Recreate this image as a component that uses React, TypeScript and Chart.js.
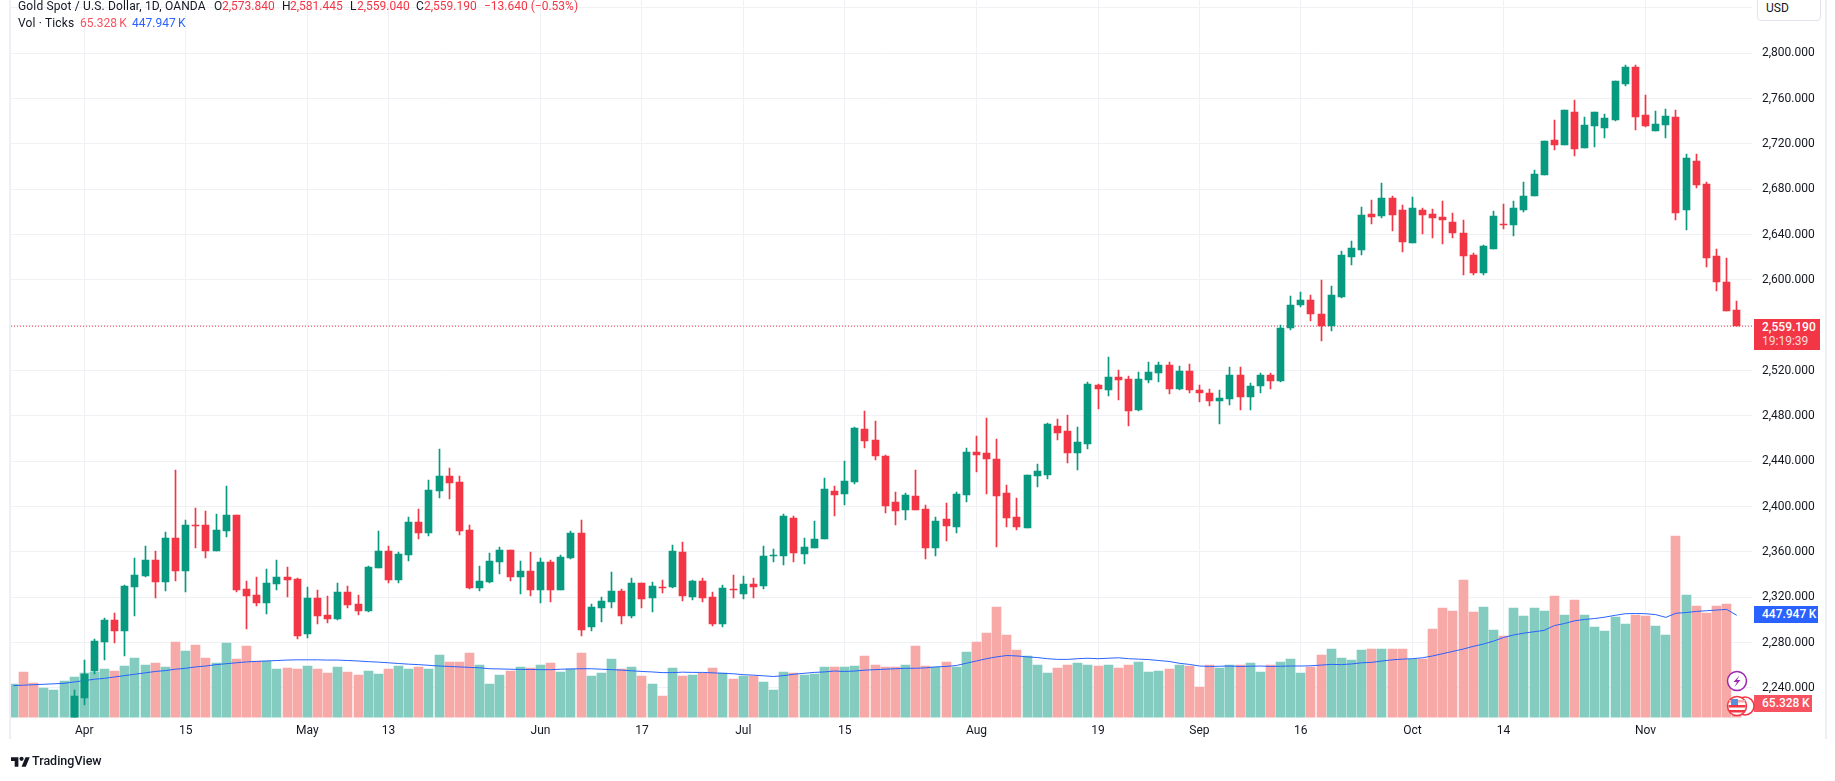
import { useRef, useEffect } from 'react'
import type { CSSProperties } from 'react'
import { Chart, registerables } from 'chart.js'

Chart.register(...registerables)

const FONT = 'Roboto, sans-serif'
const UP = '#089981'
const DOWN = '#F23645'
const UP_VOL = '#84CCBF'
const DOWN_VOL = '#F7A9A7'

// bar number 0 is 1 April, first row starts at -7 (those are below the visible range)
const FIRST_BAR = -7

const opens = [
  2160, 2182, 2172, 2166, 2180, 2190, 2194, 2231, 2255, 2280.3,
  2299.7, 2290, 2329, 2338.8, 2353, 2333.5, 2372.3, 2343.2, 2383.8, 2383.8,
  2360.9, 2378.5, 2392.6, 2327.4, 2322, 2315, 2331.8, 2337.9, 2336.2, 2288,
  2319.4, 2304.4, 2300.9, 2324.7, 2314, 2308, 2345.9, 2360.9, 2335.3, 2357.4,
  2386.5, 2376.8, 2413.8, 2427, 2421.8, 2379.4, 2328.2, 2333.5, 2351.2, 2361.8,
  2338, 2343.2, 2326.5, 2351.2, 2326.5, 2354.7, 2376.8, 2294, 2310.6, 2315.9,
  2325.6, 2303.5, 2332.6, 2319.4, 2329.1, 2329.1, 2360, 2320.3, 2334.4, 2320.3,
  2296, 2327.4, 2322.9, 2331.8, 2330, 2356.5, 2356.5, 2390, 2358.5, 2363.8,
  2371.8, 2414.1, 2411.5, 2422, 2468.8, 2459.1, 2445, 2404.4, 2397.4, 2409.7,
  2398.2, 2363.8, 2389.4, 2382.4, 2410.6, 2448.5, 2447.6, 2442.4, 2412.3, 2391.2,
  2381.5, 2427.4, 2428.2, 2471.5, 2467, 2447.6, 2455.6, 2507.6, 2503.2, 2514.7,
  2512.9, 2485.6, 2512, 2518, 2525, 2504, 2520, 2503, 2500, 2493,
  2495, 2516, 2497, 2506, 2516, 2511, 2558, 2578.2, 2582, 2570,
  2559, 2585.3, 2620.6, 2626.8, 2658.5, 2656.8, 2672.6, 2662, 2632.9, 2662,
  2658.5, 2655.9, 2651.5, 2641.8, 2622.4, 2606.5, 2627.6, 2649.2, 2648.4, 2661.6,
  2674.1, 2692.5, 2723.3, 2719.1, 2748.3, 2716.2, 2735.8, 2734.1, 2741.2, 2773,
  2787.9, 2745.4, 2731.2, 2736.6, 2743.8, 2661.6, 2704.9, 2684.5, 2621.3, 2597.9,
  2573.84,
]

const highs = [
  2203, 2186, 2178, 2184, 2194, 2199, 2238, 2265, 2283, 2301.5,
  2306, 2331, 2354.7, 2365.3, 2360.9, 2377.6, 2432.3, 2388.2, 2398.8, 2396.2,
  2393.5, 2418.2, 2392.6, 2334.4, 2337.9, 2345, 2352.9, 2346.8, 2337, 2329,
  2326.5, 2321.2, 2332.6, 2330, 2322, 2347.6, 2378.5, 2365.3, 2360, 2390.9,
  2397.9, 2423.5, 2450.9, 2434.1, 2427, 2383.8, 2347.6, 2359, 2364.4, 2361.8,
  2352, 2360, 2354.7, 2353, 2357.4, 2378.5, 2388.2, 2314.1, 2320.3, 2342.4,
  2327.4, 2337, 2332.6, 2333.5, 2335.3, 2366.2, 2368.8, 2335.3, 2337, 2324.7,
  2330.9, 2339.7, 2338.8, 2337, 2365.3, 2362.6, 2393.5, 2391.8, 2372.6, 2387.6,
  2425.6, 2418.5, 2440.6, 2470.6, 2484.7, 2475.9, 2445.9, 2413.2, 2412.3, 2432.6,
  2401.8, 2391.2, 2403.5, 2413.2, 2452, 2462.6, 2478.5, 2460, 2419.4, 2407.9,
  2428.2, 2437.9, 2473.8, 2477.6, 2481.2, 2470.6, 2510.3, 2508.5, 2532.3, 2520.9,
  2515.6, 2519, 2527.9, 2528, 2528, 2524, 2526, 2507, 2504, 2503,
  2523, 2523, 2509, 2518, 2518, 2560, 2586, 2589.7, 2587, 2600.3,
  2595, 2625.9, 2634.7, 2664.7, 2670.9, 2685.9, 2674.4, 2666.5, 2673.5, 2663.8,
  2662.9, 2670, 2659.4, 2653.2, 2624.1, 2631.2, 2661.2, 2667, 2669.6, 2686.2,
  2697, 2722.9, 2741.2, 2750, 2758.7, 2743.7, 2748.3, 2746.2, 2775.4, 2790,
  2790, 2763.3, 2748.7, 2750.7, 2749.9, 2711.2, 2711.2, 2686.2, 2627.1, 2619,
  2581.445,
]

const lows = [
  2157, 2155, 2162, 2164, 2178, 2187, 2193, 2225, 2252, 2265,
  2279.4, 2268, 2303.5, 2338, 2319.4, 2325.6, 2334.4, 2324.7, 2363.5, 2354.7,
  2360.9, 2373.2, 2324.7, 2291.8, 2312.4, 2305.3, 2326.5, 2320, 2283, 2284,
  2296, 2297, 2300, 2310.6, 2304.4, 2307, 2345.9, 2332.6, 2333, 2352,
  2371.5, 2374.1, 2407.6, 2406.8, 2375, 2327.4, 2325.6, 2332.6, 2340.6, 2334.4,
  2323, 2321.2, 2315, 2315.9, 2326.5, 2353.8, 2286, 2290, 2298, 2310.6,
  2296, 2301.8, 2310.6, 2307, 2323.8, 2328.2, 2316.8, 2317.6, 2315.9, 2295,
  2294, 2319.4, 2318.5, 2319.4, 2327.4, 2351.2, 2348.5, 2351.2, 2349.7, 2363.8,
  2371.8, 2392, 2401.8, 2420.3, 2452, 2441.5, 2394.7, 2384.1, 2388.5, 2397.4,
  2354.1, 2356.8, 2370, 2377, 2404.4, 2430.9, 2411.5, 2364.7, 2382.4, 2379.7,
  2381.5, 2417.6, 2424.7, 2459.1, 2438.8, 2432.6, 2451.2, 2486.5, 2497.9, 2494.4,
  2471.5, 2484.7, 2509.4, 2510, 2499, 2503, 2500, 2492, 2489, 2473,
  2490, 2485, 2485, 2500, 2504, 2510, 2556, 2576, 2564, 2546,
  2555, 2584.4, 2613.5, 2622.4, 2649.7, 2655, 2643.5, 2625, 2632.9, 2640.9,
  2637.4, 2632, 2637.4, 2604.7, 2604.7, 2604.7, 2627.6, 2644.6, 2639, 2659.5,
  2674.1, 2692.5, 2714.5, 2719, 2709.1, 2716, 2717.3, 2725.3, 2740.4, 2771.2,
  2732.5, 2734.5, 2731, 2725.3, 2652.8, 2644, 2681.2, 2611, 2590, 2572.5,
  2559.04,
]

const closes = [
  2182, 2165, 2166, 2180, 2190, 2193, 2233, 2252, 2281, 2299.7,
  2290, 2330, 2339.7, 2353, 2333.5, 2372.3, 2343.2, 2383.8, 2383, 2360.9,
  2379.4, 2392.6, 2326.5, 2321.2, 2315, 2332.6, 2337.9, 2335.3, 2285.6, 2319.4,
  2303.5, 2300.9, 2324.7, 2313.2, 2308, 2346.8, 2360.9, 2335.3, 2358.2, 2386.5,
  2376.8, 2414.7, 2427, 2420.9, 2378.5, 2328.2, 2334.4, 2352, 2361.8, 2338,
  2343.2, 2326.5, 2351.2, 2326.5, 2355.6, 2376.8, 2291, 2311.5, 2316.8, 2325.6,
  2303.5, 2332.6, 2318.5, 2330, 2328.2, 2360.9, 2321.2, 2334.4, 2319.4, 2296,
  2328.2, 2326.5, 2331.8, 2329.1, 2356.5, 2357.4, 2391.8, 2359, 2364.7, 2371.8,
  2415.9, 2410.6, 2422.9, 2469.7, 2458.2, 2445, 2400.9, 2396.5, 2410.6, 2397.4,
  2363.8, 2387.6, 2383.2, 2411.5, 2448.5, 2445.9, 2442.4, 2409.7, 2390.3, 2382.4,
  2428.2, 2431.8, 2473.2, 2465.3, 2447.6, 2457.4, 2508.5, 2504.1, 2514.7, 2512,
  2484.7, 2512.9, 2519, 2525, 2504, 2520, 2503, 2500, 2493, 2496,
  2516, 2497, 2506, 2516, 2511, 2558, 2578.2, 2582.6, 2570, 2559,
  2587, 2622.4, 2628.5, 2657.6, 2655.9, 2672.6, 2657.6, 2633.8, 2663.8, 2657.6,
  2655, 2653.2, 2641.8, 2621.5, 2606.5, 2630.3, 2656.8, 2648.4, 2663.4, 2674.1,
  2693.3, 2722.5, 2719.1, 2750, 2715.4, 2736.6, 2748.3, 2743, 2775.4, 2787.9,
  2743.8, 2735.8, 2737.4, 2744.6, 2659, 2707.4, 2683.7, 2619, 2597.9, 2572.5,
  2559.19,
]

// thousands of ticks
const volumes = [
  145, 200, 150, 128, 123, 160, 180, 195, 200, 213,
  205, 226, 261, 230, 239, 222, 331, 292, 318, 261,
  239, 327, 257, 314, 248, 248, 213, 217, 211, 227,
  211, 196, 222, 201, 186, 206, 191, 211, 225, 215,
  220, 215, 273, 242, 242, 283, 232, 145, 186, 206,
  222, 217, 232, 237, 201, 211, 283, 181, 196, 258,
  211, 222, 181, 145, 94, 217, 181, 186, 196, 217,
  196, 170, 181, 181, 155, 119, 201, 196, 186, 191,
  222, 222, 222, 227, 268, 232, 222, 222, 232, 314,
  227, 222, 242, 222, 288, 330, 371, 483, 360, 294,
  268, 232, 196, 217, 232, 237, 232, 227, 232, 217,
  232, 242, 201, 206, 211, 232, 227, 135, 232, 217,
  232, 232, 237, 201, 232, 242, 258, 196, 222, 273,
  299, 263, 253, 294, 299, 299, 299, 299, 258, 258,
  390, 480, 467, 603, 462, 484, 384, 357, 480, 444,
  480, 465, 532, 449, 514, 449, 395, 378, 440, 409,
  449, 444, 400, 360, 796, 536, 488, 458, 488, 497,
  65.328,
]

const volumeMa = [
  140, 142, 144, 146, 148, 150, 156, 162, 168, 172,
  178, 184, 190, 196, 202, 206, 212, 216, 222, 226,
  232, 236, 240, 244, 246, 248, 250, 252, 253, 253,
  253, 252, 252, 250, 248, 245, 243, 240, 237, 234,
  232, 229, 226, 224, 222, 220, 218, 214, 213, 212,
  211, 211, 210, 210, 212, 213, 214, 214, 212, 210,
  208, 205, 202, 200, 197, 197, 199, 198, 198, 196,
  194, 192, 188, 186, 183, 180, 184, 190, 194, 198,
  200, 204, 202, 204, 208, 210, 212, 214, 216, 216,
  218, 222, 224, 228, 238, 248, 258, 266, 272, 270,
  266, 263, 258, 255, 255, 258, 260, 258, 260, 262,
  258, 256, 254, 250, 246, 238, 233, 226, 224, 225,
  226, 224, 225, 226, 224, 225, 226, 226, 227, 230,
  233, 232, 235, 240, 242, 248, 253, 256, 258, 262,
  270, 280, 290, 300, 312, 322, 335, 351, 362, 370,
  376, 382, 403, 412, 424, 430, 434, 440, 448, 455,
  456, 455, 451, 439, 457, 460, 465, 468, 471, 474,
  447.947,
]

const lastPrice = 2559.19
const priceTicks = [2240, 2280, 2320, 2360, 2400, 2440, 2480, 2520, 2560, 2600, 2640, 2680, 2720, 2760, 2800, 2840]
const hiddenPriceTicks = [2560, 2840]
const timeTickBars = [0, 10, 22, 30, 45, 55, 65, 75, 88, 100, 110, 120, 131, 140, 154]
const timeTickLabels = ['Apr', '15', 'May', '13', 'Jun', '17', 'Jul', '15', 'Aug', '19', 'Sep', '16', 'Oct', '14', 'Nov']

const barNo = (i: number) => i + FIRST_BAR
const isUp = (i: number) => closes[i] >= opens[i]

// the original draws every bar on whole pixels, so snap them the same way
const snapBars = {
  id: 'snapBars',
  afterDatasetsUpdate(chart: Chart) {
    chart.getSortedVisibleDatasetMetas().forEach((meta) => {
      if (meta.type !== 'bar') return
      meta.data.forEach((el: any) => {
        el.x = Math.round(el.x - 0.5) + 0.5
        el.y = Math.round(el.y)
        el.base = Math.round(el.base)
        if (el.y === el.base) el.base += 1
      })
    })
  },
}

function GoldChart() {
  const canvasRef = useRef<HTMLCanvasElement>(null)

  useEffect(() => {
    if (!canvasRef.current) return
    const xMin = -7.23
    const xMax = 164.5

    const chart = new Chart(canvasRef.current, {
      type: 'bar',
      plugins: [snapBars],
      data: {
        datasets: [
          {
            type: 'bar',
            label: 'Body',
            order: 1,
            grouped: false,
            maxBarThickness: 7,
            barPercentage: 1,
            categoryPercentage: 1,
            yAxisID: 'y',
            data: opens.map((o, i) => ({ x: barNo(i), y: [o, closes[i]] })),
            backgroundColor: opens.map((_, i) => (isUp(i) ? UP : DOWN)),
          },
          {
            type: 'bar',
            label: 'Wick',
            order: 2,
            grouped: false,
            maxBarThickness: 1,
            barPercentage: 1,
            categoryPercentage: 1,
            yAxisID: 'y',
            data: lows.map((l, i) => ({ x: barNo(i), y: [l, highs[i]] })),
            backgroundColor: opens.map((_, i) => (isUp(i) ? UP : DOWN)),
          },
          {
            type: 'line',
            label: 'Last',
            order: 3,
            yAxisID: 'y',
            data: [
              { x: xMin, y: lastPrice },
              { x: xMax, y: lastPrice },
            ],
            borderColor: DOWN,
            borderWidth: 1,
            borderDash: [1, 2],
            pointRadius: 0,
          },
          {
            type: 'line',
            label: 'Volume MA',
            order: 4,
            yAxisID: 'yVol',
            data: volumeMa.map((v, i) => ({ x: barNo(i), y: v })),
            borderColor: '#2962FF',
            borderWidth: 1,
            pointRadius: 0,
            tension: 0,
          },
          {
            type: 'bar',
            label: 'Volume',
            order: 5,
            grouped: false,
            maxBarThickness: 9,
            barPercentage: 1,
            categoryPercentage: 1,
            yAxisID: 'yVol',
            data: volumes.map((v, i) => ({ x: barNo(i), y: v })),
            backgroundColor: opens.map((_, i) => (isUp(i) ? UP_VOL : DOWN_VOL)),
          },
        ],
      } as any,
      options: {
        responsive: false,
        animation: false,
        devicePixelRatio: 1,
        layout: { padding: { left: 11, top: 0, right: 0, bottom: 0 } },
        plugins: { legend: { display: false }, tooltip: { enabled: false } },
        scales: {
          x: {
            type: 'linear',
            offset: false,
            min: xMin,
            max: xMax,
            border: { display: false },
            grid: { color: '#F0F1F4', drawTicks: false, offset: false },
            afterBuildTicks: (axis: any) => {
              axis.ticks = timeTickBars.map((value) => ({ value }))
            },
            afterFit: (axis: any) => {
              axis.height = 63.4
              axis.paddingLeft = 0
              axis.paddingRight = 0
            },
            ticks: {
              autoSkip: false,
              maxRotation: 0,
              padding: 6,
              color: '#131722',
              font: { size: 12, family: FONT },
              callback: (v: any) => timeTickLabels[timeTickBars.indexOf(v)],
            },
          },
          y: {
            position: 'right',
            min: 2213.8,
            max: 2847,
            border: { display: false },
            grid: { color: '#F0F1F4', drawTicks: false },
            afterBuildTicks: (axis: any) => {
              axis.ticks = priceTicks.map((value) => ({ value }))
            },
            afterFit: (axis: any) => {
              axis.width = 83
              axis.paddingTop = 0
              axis.paddingBottom = 0
            },
            ticks: {
              padding: 10,
              color: '#131722',
              font: { size: 12, family: FONT },
              callback: (v: any) =>
                hiddenPriceTicks.includes(v)
                  ? ''
                  : v.toLocaleString('en-US', { minimumFractionDigits: 3 }),
            },
          },
          yVol: {
            display: false,
            min: 0,
            max: 3143,
          },
        },
      },
    } as any)

    return () => {
      chart.destroy()
    }
  }, [])

  return (
    <canvas
      ref={canvasRef}
      width={1835}
      height={781}
      style={{ position: 'absolute', left: 0, top: 0, width: 1835, height: 781, display: 'block' }}
    />
  )
}

const text = (x: number, y: number, color: string, extra?: CSSProperties): CSSProperties => ({
  position: 'absolute',
  left: x,
  top: y,
  color,
  font: `12px/14px ${FONT}`,
  whiteSpace: 'nowrap',
  ...extra,
})

const tag = (x: number, y: number, w: number, h: number, bg: string): CSSProperties => ({
  position: 'absolute',
  left: x,
  top: y,
  width: w,
  height: h,
  background: bg,
  color: '#fff',
  font: `500 12px/${h}px ${FONT}`,
  paddingLeft: 8,
  boxSizing: 'border-box',
  whiteSpace: 'nowrap',
})

export default function App() {
  return (
    <div style={{ position: 'absolute', left: 0, top: 0, width: 1835, height: 781, overflow: 'hidden', background: '#fff' }}>
      <GoldChart />

      <div style={{ position: 'absolute', left: 9, top: 0, width: 2, height: 739, background: '#EEEFF4' }} />
      <div style={{ position: 'absolute', left: 1825, top: 0, width: 2, height: 739, background: '#EEEFF4' }} />

      <span style={text(18, -1, '#131722', { letterSpacing: 0.15 })}>Gold Spot / U.S. Dollar, 1D, OANDA</span>
      <span style={text(214, -1, '#131722')}>O</span>
      <span style={text(222, -1, DOWN)}>2,573.840</span>
      <span style={text(282, -1, '#131722')}>H</span>
      <span style={text(290, -1, DOWN)}>2,581.445</span>
      <span style={text(350, -1, '#131722')}>L</span>
      <span style={text(357, -1, DOWN)}>2,559.040</span>
      <span style={text(416, -1, '#131722')}>C</span>
      <span style={text(424, -1, DOWN)}>2,559.190</span>
      <span style={text(484, -1, DOWN)}>−13.640 (−0.53%)</span>

      <span style={text(18, 16, '#131722', { letterSpacing: 0.15 })}>Vol · Ticks</span>
      <span style={text(80, 16, '#F7525F')}>65.328{'\u2009'}K</span>
      <span style={text(132, 16, '#2962FF')}>447.947{'\u2009'}K</span>

      <div
        style={{
          position: 'absolute',
          left: 1757,
          top: -4,
          width: 64,
          height: 25,
          border: '1px solid #E0E3EB',
          borderRadius: 4,
          boxSizing: 'border-box',
          background: '#fff',
        }}
      />
      <span style={text(1766, 1, '#131722')}>USD</span>

      <div style={{ ...tag(1754, 319, 66, 31, DOWN), paddingTop: 1 }}>
        <div style={{ lineHeight: '14px' }}>2,559.190</div>
        <div style={{ lineHeight: '14px', fontWeight: 400, opacity: 0.8 }}>19:19:39</div>
      </div>
      <div style={tag(1754, 606, 64, 17, '#2962FF')}>447.947{'\u2009'}K</div>
      <div style={tag(1754, 695, 58, 17, '#F7525F')}>65.328{'\u2009'}K</div>

      <svg style={{ position: 'absolute', left: 1725, top: 669 }} width={30} height={50} viewBox="0 0 30 50">
        <circle cx={12} cy={12} r={9.5} fill="#fff" stroke="#9C27B0" strokeWidth={1.5} />
        <path d="M14.5 6.5 L8.5 13 L12 13 L9.5 18 L15.5 11 L12 11 Z" fill="#9C27B0" />
        <circle cx={20} cy={37} r={9} fill="#fff" stroke="#F23645" strokeWidth={1.5} />
        <circle cx={12} cy={37} r={9.5} fill="#fff" stroke="#F23645" strokeWidth={1.5} />
        <rect x={4} y={31} width={16} height={2.5} fill="#F7A9A7" />
        <rect x={3.5} y={36} width={17} height={2.5} fill="#F23645" />
        <rect x={4} y={41} width={16} height={2.5} fill="#F23645" />
        <rect x={6} y={30} width={7} height={6} fill="#5B8FD9" />
      </svg>

      <svg style={{ position: 'absolute', left: 11, top: 755 }} width={19} height={15} viewBox="0 0 36 28">
        <path d="M14 22H7V11H0V4h14v18ZM28 22h-8l7.5-18h8L28 22Z" fill="#131722" />
        <circle cx={20} cy={7} r={4} fill="#131722" />
      </svg>
      <span style={text(32, 754, '#131722', { fontWeight: 500, fontSize: 12.5 })}>TradingView</span>
    </div>
  )
}
